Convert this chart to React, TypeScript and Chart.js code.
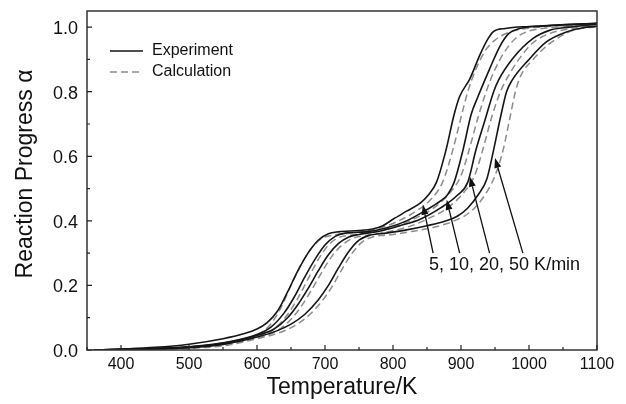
import React, { useEffect, useRef } from 'react';
import { Chart, registerables } from 'chart.js';

Chart.register(...registerables);

const FONT = '"Liberation Sans", Arial, Helvetica, sans-serif';

// Experiment (solid) – temperature (K) and reaction progress α
const exp5T = [360, 400, 450, 500, 550, 580, 600, 615, 630, 645, 660, 675, 690, 705, 720, 750, 770, 785, 800, 820, 840, 852, 864, 878, 890, 898, 913, 928, 940, 948, 965, 1000, 1100];
const exp5A = [0, 0.003, 0.008, 0.018, 0.035, 0.05, 0.065, 0.085, 0.12, 0.18, 0.245, 0.3, 0.34, 0.36, 0.366, 0.37, 0.375, 0.385, 0.405, 0.43, 0.455, 0.48, 0.52, 0.62, 0.73, 0.785, 0.84, 0.915, 0.965, 0.987, 0.996, 1.002, 1.012];

const exp10T = [360, 400, 450, 500, 550, 600, 620, 640, 655, 670, 685, 700, 715, 730, 760, 790, 820, 850, 870, 880, 890, 903, 915, 925, 942, 957, 970, 985, 1020, 1100];
const exp10A = [0, 0.002, 0.005, 0.01, 0.022, 0.048, 0.07, 0.115, 0.165, 0.225, 0.28, 0.325, 0.352, 0.362, 0.366, 0.378, 0.4, 0.435, 0.462, 0.48, 0.52, 0.62, 0.73, 0.785, 0.87, 0.94, 0.98, 0.995, 1.003, 1.012];

const exp20T = [360, 400, 450, 500, 550, 600, 625, 645, 660, 675, 690, 705, 720, 735, 750, 780, 810, 840, 870, 895, 910, 922, 935, 948, 955, 977, 1006, 1030, 1060, 1100];
const exp20A = [0, 0.002, 0.004, 0.009, 0.02, 0.045, 0.065, 0.1, 0.14, 0.19, 0.245, 0.295, 0.33, 0.35, 0.358, 0.368, 0.385, 0.405, 0.44, 0.48, 0.52, 0.62, 0.71, 0.8, 0.835, 0.905, 0.965, 0.99, 1.0, 1.01];

const exp50T = [360, 400, 450, 500, 550, 600, 630, 650, 670, 690, 705, 720, 735, 750, 765, 790, 820, 850, 875, 895, 910, 925, 938, 948, 958, 967, 975, 1000, 1026, 1055, 1080, 1100];
const exp50A = [0, 0.001, 0.003, 0.007, 0.017, 0.04, 0.06, 0.08, 0.11, 0.155, 0.2, 0.255, 0.305, 0.34, 0.355, 0.362, 0.372, 0.385, 0.398, 0.415, 0.44, 0.48, 0.53, 0.62, 0.72, 0.8, 0.835, 0.9, 0.955, 0.985, 0.998, 1.003];

// Calculation (dashed)
const calc5T = [360, 400, 450, 500, 550, 600, 620, 635, 650, 665, 680, 695, 710, 740, 770, 800, 830, 855, 873, 888, 900, 910, 920, 935, 950, 972, 1000, 1100];
const calc5A = [0, 0.001, 0.004, 0.01, 0.022, 0.045, 0.08, 0.13, 0.2, 0.265, 0.315, 0.345, 0.355, 0.362, 0.372, 0.392, 0.425, 0.465, 0.52, 0.62, 0.72, 0.8, 0.86, 0.925, 0.96, 0.985, 0.997, 1.008];

const calc10T = [360, 400, 450, 500, 550, 600, 625, 645, 660, 675, 690, 705, 720, 740, 770, 800, 830, 860, 885, 900, 912, 925, 937, 948, 963, 980, 1000, 1030, 1100];
const calc10A = [0, 0.001, 0.003, 0.008, 0.018, 0.04, 0.065, 0.11, 0.16, 0.22, 0.28, 0.325, 0.348, 0.356, 0.365, 0.38, 0.405, 0.44, 0.49, 0.54, 0.62, 0.72, 0.8, 0.86, 0.92, 0.965, 0.988, 0.998, 1.008];

const calc20T = [360, 400, 450, 500, 550, 600, 630, 650, 665, 680, 695, 710, 725, 740, 760, 790, 820, 850, 880, 905, 920, 932, 945, 958, 970, 985, 1005, 1030, 1060, 1100];
const calc20A = [0, 0.001, 0.003, 0.007, 0.016, 0.038, 0.06, 0.095, 0.135, 0.185, 0.24, 0.29, 0.325, 0.345, 0.355, 0.365, 0.38, 0.405, 0.44, 0.49, 0.54, 0.62, 0.72, 0.8, 0.85, 0.9, 0.95, 0.98, 0.995, 1.005];

const calc50T = [360, 400, 450, 500, 550, 600, 635, 655, 675, 695, 710, 725, 740, 755, 770, 800, 830, 860, 890, 915, 935, 950, 962, 972, 980, 988, 1006, 1025, 1045, 1065, 1085, 1100];
const calc50A = [0, 0.001, 0.002, 0.005, 0.013, 0.035, 0.055, 0.075, 0.105, 0.15, 0.195, 0.25, 0.3, 0.335, 0.35, 0.358, 0.368, 0.38, 0.4, 0.43, 0.48, 0.54, 0.62, 0.72, 0.8, 0.85, 0.9, 0.94, 0.97, 0.99, 0.998, 1.0];

// Axes
const xMajorTicks = [400, 500, 600, 700, 800, 900, 1000, 1100];
const xMinorTicks = [350, 450, 550, 650, 750, 850, 950, 1050];
const yMajorTicks = [0, 0.2, 0.4, 0.6, 0.8, 1.0];
const yMinorTicks = [0.1, 0.3, 0.5, 0.7, 0.9];

// Annotation arrows (heating rates)
const arrowTipT = [844, 879, 913, 950];
const arrowTipA = [0.45, 0.465, 0.537, 0.595];
const arrowTailT = [859, 898, 942, 991];
const arrowTailA = [0.3, 0.3, 0.3, 0.3];
const rateLabel = '5, 10, 20, 50 K/min';
const rateLabelT = 853;
const rateLabelA = 0.262;

const legendLabels = ['Experiment', 'Calculation'];
const xTitle = 'Temperature/K';
const yTitle = 'Reaction Progress α';

const zip = (t: number[], a: number[]) => t.map((v, i) => ({ x: v, y: a[i] }));

const solid = (label: string, t: number[], a: number[]) => ({
  label,
  data: zip(t, a),
  borderColor: '#151515',
  borderWidth: 1.6,
  pointRadius: 0,
  fill: false,
  cubicInterpolationMode: 'monotone' as const,
});
const dashed = (label: string, t: number[], a: number[]) => ({
  label,
  data: zip(t, a),
  borderColor: '#8c8c8c',
  borderWidth: 1.5,
  borderDash: [7, 4],
  pointRadius: 0,
  fill: false,
  cubicInterpolationMode: 'monotone' as const,
});

const decor = {
  id: 'decor',
  afterDatasetsDraw(chart: any) {
    const { ctx, chartArea: a, scales } = chart;
    const x = scales.x;
    const y = scales.y;
    ctx.save();
    // frame
    ctx.strokeStyle = '#333';
    ctx.lineWidth = 1.5;
    ctx.strokeRect(a.left, a.top, a.right - a.left, a.bottom - a.top);
    // inward ticks
    ctx.strokeStyle = '#222';
    ctx.lineWidth = 1.2;
    ctx.beginPath();
    xMajorTicks.forEach((v) => {
      const px = x.getPixelForValue(v);
      ctx.moveTo(px, a.bottom);
      ctx.lineTo(px, a.bottom - 5);
    });
    xMinorTicks.forEach((v) => {
      const px = x.getPixelForValue(v);
      ctx.moveTo(px, a.bottom);
      ctx.lineTo(px, a.bottom - 3);
    });
    yMajorTicks.forEach((v) => {
      const py = y.getPixelForValue(v);
      ctx.moveTo(a.left, py);
      ctx.lineTo(a.left + 5, py);
    });
    yMinorTicks.forEach((v) => {
      const py = y.getPixelForValue(v);
      ctx.moveTo(a.left, py);
      ctx.lineTo(a.left + 3, py);
    });
    ctx.stroke();

    // arrows
    ctx.strokeStyle = '#111';
    ctx.fillStyle = '#111';
    ctx.lineWidth = 1.3;
    arrowTipT.forEach((t, i) => {
      const x1 = x.getPixelForValue(arrowTailT[i]);
      const y1 = y.getPixelForValue(arrowTailA[i]);
      const x2 = x.getPixelForValue(t);
      const y2 = y.getPixelForValue(arrowTipA[i]);
      const ang = Math.atan2(y2 - y1, x2 - x1);
      const hl = 10;
      const hw = 3.5;
      const bx = x2 - hl * Math.cos(ang);
      const by = y2 - hl * Math.sin(ang);
      ctx.beginPath();
      ctx.moveTo(x1, y1);
      ctx.lineTo(bx, by);
      ctx.stroke();
      ctx.beginPath();
      ctx.moveTo(x2, y2);
      ctx.lineTo(bx + hw * Math.sin(ang), by - hw * Math.cos(ang));
      ctx.lineTo(bx - hw * Math.sin(ang), by + hw * Math.cos(ang));
      ctx.closePath();
      ctx.fill();
    });

    // rate label
    ctx.font = `18px ${FONT}`;
    ctx.textAlign = 'left';
    ctx.textBaseline = 'middle';
    ctx.fillStyle = '#111';
    ctx.fillText(rateLabel, x.getPixelForValue(rateLabelT), y.getPixelForValue(rateLabelA));

    // legend
    const lx = a.left + 23;
    const ly = a.top + 40;
    ctx.lineWidth = 1.6;
    ctx.strokeStyle = '#151515';
    ctx.beginPath();
    ctx.moveTo(lx, ly);
    ctx.lineTo(lx + 33, ly);
    ctx.stroke();
    ctx.strokeStyle = '#8c8c8c';
    ctx.lineWidth = 1.5;
    ctx.setLineDash([7, 4]);
    ctx.beginPath();
    ctx.moveTo(lx, ly + 21);
    ctx.lineTo(lx + 33, ly + 21);
    ctx.stroke();
    ctx.setLineDash([]);
    ctx.font = `16px ${FONT}`;
    ctx.fillStyle = '#111';
    ctx.fillText(legendLabels[0], lx + 42, ly);
    ctx.fillText(legendLabels[1], lx + 42, ly + 21);

    // axis titles
    ctx.font = `23px ${FONT}`;
    ctx.textAlign = 'center';
    ctx.textBaseline = 'middle';
    ctx.fillText(xTitle, (a.left + a.right) / 2, 388);
    ctx.save();
    ctx.translate(25.5, 174);
    ctx.rotate(-Math.PI / 2);
    ctx.fillText(yTitle, 0, 0);
    ctx.restore();

    ctx.restore();
  },
};

export default function App() {
  const ref = useRef<HTMLCanvasElement | null>(null);
  useEffect(() => {
    if (!ref.current) return;
    const chart = new Chart(ref.current, {
      type: 'line',
      data: {
        datasets: [
          solid('5 K/min exp', exp5T, exp5A),
          solid('10 K/min exp', exp10T, exp10A),
          solid('20 K/min exp', exp20T, exp20A),
          solid('50 K/min exp', exp50T, exp50A),
          dashed('5 K/min calc', calc5T, calc5A),
          dashed('10 K/min calc', calc10T, calc10A),
          dashed('20 K/min calc', calc20T, calc20A),
          dashed('50 K/min calc', calc50T, calc50A),
        ],
      },
      options: {
        animation: false,
        responsive: false,
        maintainAspectRatio: false,
        layout: { padding: { top: 11, right: 29, left: 0, bottom: 0 } },
        plugins: { legend: { display: false }, tooltip: { enabled: false }, title: { display: false } },
        scales: {
          x: {
            type: 'linear',
            min: 350,
            max: 1100,
            grid: { display: false, drawTicks: false },
            border: { display: false },
            ticks: {
              font: { size: 16, family: FONT },
              color: '#111',
              padding: 5,
              maxRotation: 0,
              autoSkip: false,
              callback: (v: any) => String(v),
            },
            afterBuildTicks: (s: any) => { s.ticks = xMajorTicks.map((v) => ({ value: v })); },
            afterFit: (s: any) => { s.height = 54; s.paddingLeft = 0; s.paddingRight = 0; },
          },
          y: {
            type: 'linear',
            min: 0,
            max: 1.05,
            grid: { display: false, drawTicks: false },
            border: { display: false },
            ticks: {
              font: { size: 18, family: FONT },
              color: '#111',
              padding: 9,
              labelOffset: 2,
              callback: (v: any) => Number(v).toFixed(1),
            },
            afterBuildTicks: (s: any) => { s.ticks = yMajorTicks.map((v) => ({ value: v })); },
            afterFit: (s: any) => { s.width = 87; s.paddingTop = 0; s.paddingBottom = 0; },
          },
        },
      },
      plugins: [decor],
    });
    return () => chart.destroy();
  }, []);
  return (
    <div style={{ position: 'absolute', left: 0, top: 0, width: 626, height: 404, background: '#fff' }}>
      <canvas ref={ref} width={626} height={404} style={{ width: 626, height: 404 }} />
    </div>
  );
}
